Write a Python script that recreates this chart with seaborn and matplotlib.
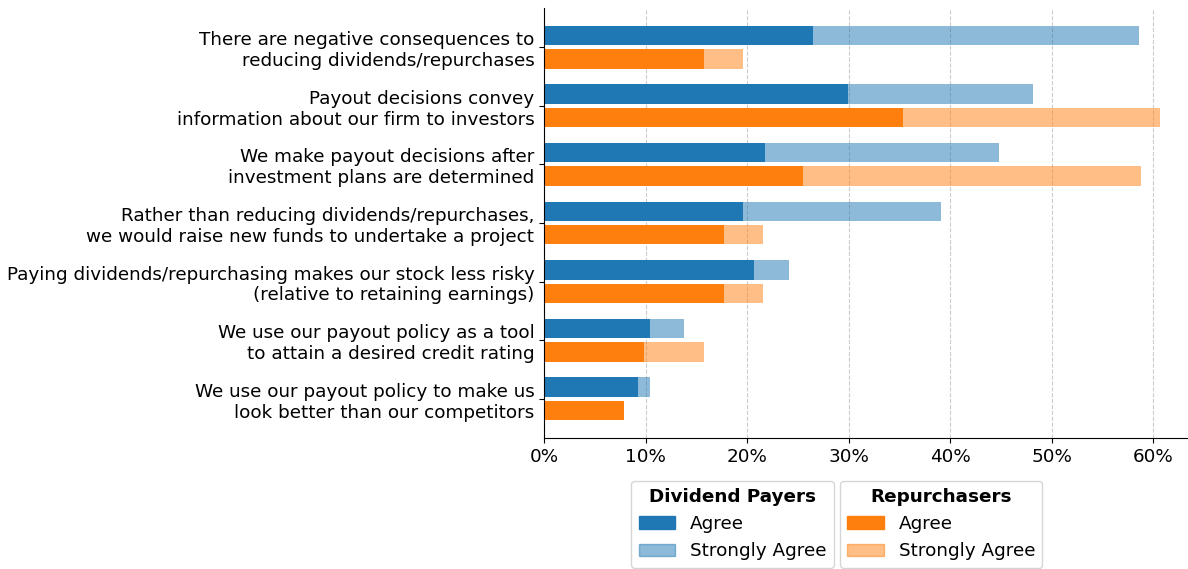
import matplotlib
matplotlib.use("Agg")
import matplotlib.pyplot as plt
from matplotlib.patches import Patch
from matplotlib.ticker import PercentFormatter
import pandas as pd
import seaborn as sns

statements = [
    "There are negative consequences to\nreducing dividends/repurchases",
    "Payout decisions convey\ninformation about our firm to investors",
    "We make payout decisions after\ninvestment plans are determined",
    "Rather than reducing dividends/repurchases,\nwe would raise new funds to undertake a project",
    "Paying dividends/repurchasing makes our stock less risky\n(relative to retaining earnings)",
    "We use our payout policy as a tool\nto attain a desired credit rating",
    "We use our payout policy to make us\nlook better than our competitors",
]

# Percent of respondents
div_agree = [26.5, 29.9, 21.8, 19.6, 20.7, 10.4, 9.2]
div_strongly = [32.1, 18.3, 23.0, 19.5, 3.4, 3.4, 1.2]
rep_agree = [15.7, 35.3, 25.5, 17.7, 17.7, 9.8, 7.9]
rep_strongly = [3.9, 25.4, 33.3, 3.9, 3.9, 5.9, 0.0]

groups = ["Dividend Payers", "Repurchasers"]
dark = {"Dividend Payers": "#1f77b4", "Repurchasers": "#ff7f0e"}

rows = []
for i, s in enumerate(statements):
    rows.append({"statement": s, "group": groups[0],
                 "agree": div_agree[i], "total": div_agree[i] + div_strongly[i]})
    rows.append({"statement": s, "group": groups[1],
                 "agree": rep_agree[i], "total": rep_agree[i] + rep_strongly[i]})
df = pd.DataFrame(rows)

fig = plt.figure(figsize=(11.88, 5.69), dpi=100)
ax = fig.add_axes([0.458, 0.230, 0.541, 0.756])

# Agree + Strongly Agree drawn as a lighter bar, Agree drawn on top
sns.barplot(data=df, y="statement", x="total", hue="group", order=statements,
            hue_order=groups, palette=dark, orient="h", alpha=0.5,
            saturation=1, width=0.8, gap=0.175, legend=False, ax=ax,
            errorbar=None)
sns.barplot(data=df, y="statement", x="agree", hue="group", order=statements,
            hue_order=groups, palette=dark, orient="h",
            saturation=1, width=0.8, gap=0.175, legend=False, ax=ax,
            errorbar=None)

ax.set_xlim(0, 63.3)
ax.set_ylim(6.67, -0.67)
ax.xaxis.set_major_formatter(PercentFormatter(100, decimals=0))
ax.set_xlabel("")
ax.set_ylabel("")
ax.tick_params(axis="both", labelsize=13.2)
ax.set_axisbelow(True)
ax.xaxis.grid(True, linestyle="--", color="#cccccc", linewidth=0.8)
ax.yaxis.grid(False)
sns.despine(ax=ax)

leg_kw = dict(fontsize=13.2, title_fontproperties={"weight": "bold", "size": 13.2},
              frameon=True, handlelength=2.0, borderpad=0.4,
              borderaxespad=0, labelspacing=0.5)
h1 = [Patch(color="#1f77b4"), Patch(color="#1f77b4", alpha=0.5)]
h2 = [Patch(color="#ff7f0e"), Patch(color="#ff7f0e", alpha=0.5)]
lab = ["Agree", "Strongly Agree"]
fig.legend(h1, lab, title="Dividend Payers", loc="upper right",
           bbox_to_anchor=(0.702, 0.155), **leg_kw)
fig.legend(h2, lab, title="Repurchasers", loc="upper left",
           bbox_to_anchor=(0.707, 0.155), **leg_kw)

fig.savefig("out.png", dpi=100)
